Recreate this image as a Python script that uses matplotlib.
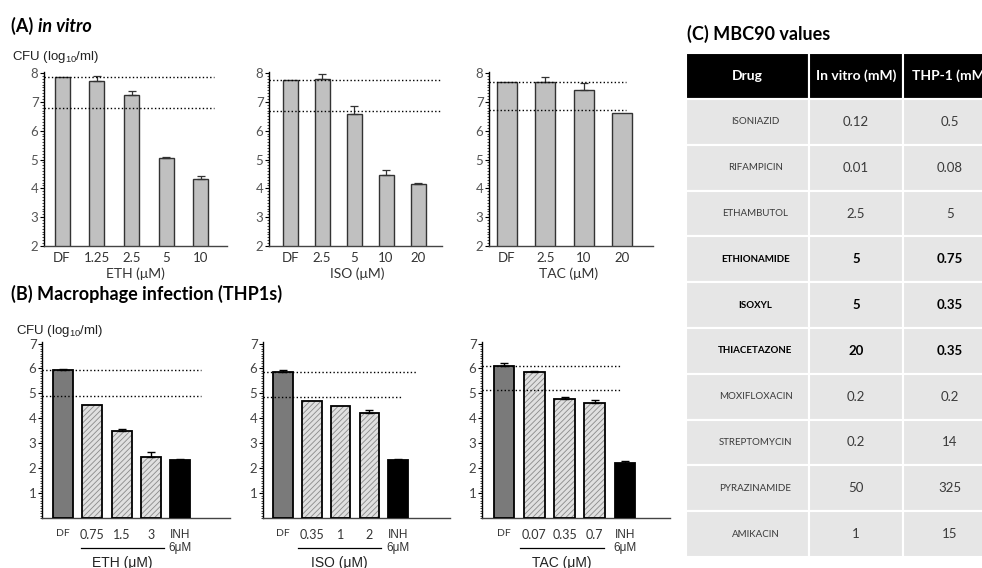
import numpy as np
import matplotlib
matplotlib.use('Agg')
import matplotlib.pyplot as plt
from matplotlib.patches import Rectangle
from matplotlib.ticker import MultipleLocator
import matplotlib.transforms as mtransforms

plt.rcParams['font.family'] = ['Lato', 'DejaVu Sans']
plt.rcParams['mathtext.default'] = 'regular'
plt.rcParams['hatch.linewidth'] = 0.6

# ---- data: (A) in vitro ----
a_eth_labels = ['DF', '1.25', '2.5', '5', '10']
a_eth_vals = [7.85, 7.74, 7.25, 5.04, 4.33]
a_eth_err = [0, 0.15, 0.14, 0.05, 0.10]
a_eth_lines = [7.86, 6.80]

a_iso_labels = ['DF', '2.5', '5', '10', '20']
a_iso_vals = [7.75, 7.81, 6.58, 4.45, 4.14]
a_iso_err = [0, 0.17, 0.28, 0.17, 0.05]
a_iso_lines = [7.75, 6.67]

a_tac_labels = ['DF', '2.5', '10', '20']
a_tac_vals = [7.69, 7.69, 7.42, 6.60]
a_tac_err = [0, 0.19, 0.25, 0]
a_tac_lines = [7.69, 6.73]

# ---- data: (B) macrophage infection ----
b_eth_labels = ['DF', '0.75', '1.5', '3', 'INH\n6μM']
b_eth_vals = [5.95, 4.52, 3.48, 2.46, 2.32]
b_eth_err = [0.04, 0, 0.10, 0.17, 0.04]
b_eth_lines = [5.95, 4.89]

b_iso_labels = ['DF', '0.35', '1', '2', 'INH\n6μM']
b_iso_vals = [5.87, 4.68, 4.49, 4.21, 2.31]
b_iso_err = [0.06, 0, 0, 0.13, 0.05]
b_iso_lines = [5.87, 4.84]

b_tac_labels = ['DF', '0.07', '0.35', '0.7', 'INH\n6μM']
b_tac_vals = [6.11, 5.84, 4.79, 4.63, 2.19]
b_tac_err = [0.09, 0.05, 0.05, 0.09, 0.09]
b_tac_lines = [6.09, 5.12]

# ---- data: (C) table ----
tbl_header = ['Drug', 'In vitro (mM)', 'THP-1 (mM)']
drugs = ['ISONIAZID', 'RIFAMPICIN', 'ETHAMBUTOL', 'ETHIONAMIDE', 'ISOXYL',
         'THIACETAZONE', 'MOXIFLOXACIN', 'STREPTOMYCIN', 'PYRAZINAMIDE', 'AMIKACIN']
mbc_invitro = ['0.12', '0.01', '2.5', '5', '5', '20', '0.2', '0.2', '50', '1']
mbc_thp1 = ['0.5', '0.08', '5', '0.75', '0.35', '0.35', '0.2', '14', '325', '15']
bold_drugs = ['ETHIONAMIDE', 'ISOXYL', 'THIACETAZONE']

W, H = 982, 568
fig = plt.figure(figsize=(W / 100, H / 100), dpi=100)
ARIAL = ['Liberation Sans', 'DejaVu Sans']


def box(l, t, r, b):
    return [l / W, 1 - b / H, (r - l) / W, (b - t) / H]


def style_axis(ax, ymin, ymax, tick_color):
    ax.set_ylim(ymin, ymax)
    for s in ['top', 'right']:
        ax.spines[s].set_visible(False)
    ax.spines['left'].set_linewidth(1.0)
    ax.spines['bottom'].set_linewidth(1.0)
    ax.spines['bottom'].set_color('#444444')
    ax.yaxis.set_major_locator(MultipleLocator(1))
    ax.yaxis.set_minor_locator(MultipleLocator(0.1))
    ax.tick_params(axis='y', which='major', length=3, width=0.8, labelsize=9.5,
                   labelcolor=tick_color, pad=1)
    ax.tick_params(axis='y', which='minor', length=1.5, width=0.5)
    ax.tick_params(axis='x', length=0, labelsize=9.5, labelcolor='#333333')


def panel_a(rect, labels, vals, err, lines, xl, xr, width, line_end, xlabel):
    ax = fig.add_axes(box(*rect))
    x = np.arange(len(vals))
    ax.bar(x, vals, width=width, bottom=0, color='#c0c0c0', edgecolor='#333333', linewidth=1.0, zorder=2)
    e = np.array(err)
    m = e > 0
    ax.errorbar(x[m], np.array(vals)[m], yerr=[np.zeros(m.sum()), e[m]], fmt='none',
                ecolor='#333333', elinewidth=0.9, capsize=3, capthick=0.9, zorder=3)
    for yv in lines:
        ax.plot([xl, line_end], [yv, yv], ls=':', color='black', lw=1.0, zorder=4, clip_on=False)
    style_axis(ax, 2, 8.05, '#555555')
    ax.set_xlim(xl, xr)
    ax.set_xticks(x)
    ax.set_xticklabels(labels)
    ax.tick_params(axis='x', pad=4)
    ax.text(0.5 * (x[0] + x[-1]) + 0.1, -0.16, xlabel,
            transform=mtransforms.blended_transform_factory(ax.transData, ax.transAxes),
            ha='center', va='center', fontsize=10, color='#333333')
    return ax


def panel_b(rect, labels, vals, err, lines, xl, xr, line_ends, xlabel, under):
    ax = fig.add_axes(box(*rect))
    x = np.arange(len(vals))
    colors = ['#7a7a7a'] + ['#e0e0e0'] * (len(vals) - 2) + ['black']
    hatches = [''] + ['//////'] * (len(vals) - 2) + ['']
    ax.bar(x, vals, width=0.68, color=colors, edgecolor='#8a8a8a', linewidth=0, hatch=hatches, zorder=2)
    ax.bar(x, vals, width=0.68, color='none', edgecolor='black', linewidth=1.3, zorder=3)
    e = np.array(err)
    m = e > 0
    ax.errorbar(x[m], np.array(vals)[m], yerr=[np.zeros(m.sum()), e[m]], fmt='none',
                ecolor='black', elinewidth=1.0, capsize=3, capthick=1.0, zorder=4)
    for yv, xe in zip(lines, line_ends):
        ax.plot([xl, xe], [yv, yv], ls=':', color='black', lw=1.0, zorder=5, clip_on=False)
    style_axis(ax, 0, 7.05, '#444444')
    ax.set_yticks(range(1, 8))
    ax.set_xlim(xl, xr)
    ax.set_xticks(x)
    ax.set_xticklabels(labels)
    ax.tick_params(axis='x', pad=8, labelsize=9)
    for i, t in enumerate(ax.get_xticklabels()):
        if i == 0:
            t.set_fontsize(7.5)
        elif i == len(vals) - 1:
            t.set_family(ARIAL)
            t.set_fontsize(8.5)
            t.set_linespacing(1.1)
    tr = mtransforms.blended_transform_factory(ax.transData, ax.transAxes)
    ax.plot(under, [-0.171, -0.171], color='black', lw=0.9, transform=tr, clip_on=False)
    ax.text(0.5 * (under[0] + under[1]), -0.255, xlabel, transform=tr, ha='center', va='center',
            fontsize=10, family=ARIAL, color='#222222')
    return ax


# (A) panels
panel_a((44, 71.6, 227, 246), a_eth_labels, a_eth_vals, a_eth_err, a_eth_lines,
        -0.52, 4.75, 0.43, 4.37, 'ETH (μM)')
panel_a((269, 71.6, 442, 246), a_iso_labels, a_iso_vals, a_iso_err, a_iso_lines,
        -0.66, 4.75, 0.47, 4.72, 'ISO (μM)')
panel_a((489, 71.6, 653, 246), a_tac_labels, a_tac_vals, a_tac_err, a_tac_lines,
        -0.47, 3.81, 0.52, 3.1, 'TAC (μM)')

# (B) panels
panel_b((42, 342.3, 230, 518), b_eth_labels, b_eth_vals, b_eth_err, b_eth_lines,
        -0.72, 5.7, [4.72, 4.72], 'ETH (μM)', [0.6, 3.45])
panel_b((263, 342.3, 450, 518), b_iso_labels, b_iso_vals, b_iso_err, b_iso_lines,
        -0.7, 5.8, [4.63, 4.14], 'ISO (μM)', [0.52, 3.4])
panel_b((482, 342.3, 670, 518), b_tac_labels, b_tac_vals, b_tac_err, b_tac_lines,
        -0.73, 5.49, [3.87, 3.87], 'TAC (μM)', [0.53, 3.3])

# titles and y labels
t1 = fig.text(11 / W, 1 - 26 / H, '(A) ', fontsize=13, fontweight='bold', va='center')
fig.add_artist(plt.Annotation('in vitro', xy=(1, 0), xycoords=t1, va='bottom', ha='left',
                              fontsize=13, fontweight='bold', style='italic'))
fig.text(11 / W, 1 - 294 / H, '(B) Macrophage infection (THP1s)', fontsize=13, fontweight='bold', va='center')
fig.text(687 / W, 1 - 34 / H, '(C) MBC90 values', fontsize=13, fontweight='bold', va='center')

cfu = 'CFU (log$_{10}$/ml)'
fig.text(12 / W, 1 - 57 / H, cfu, fontsize=9.5, va='center', family=ARIAL, color='#222222')
fig.text(16 / W, 1 - 331 / H, cfu, fontsize=9.5, va='center', family=ARIAL, color='#222222')

# (C) table
tab = fig.add_axes(box(686, 53, 997, 557))
tab.set_xlim(0, 311)
tab.set_ylim(504, 0)
tab.axis('off')
col_edges = [0, 123, 217, 311]
row_h = 45.8
head_h = 46
for j in range(3):
    x0, x1 = col_edges[j], col_edges[j + 1]
    tab.add_patch(Rectangle((x0, 0), x1 - x0, head_h, facecolor='black', edgecolor='white', lw=1.5))
    tab.text((x0 + x1) / 2, head_h / 2, tbl_header[j], ha='center', va='center', color='white',
             fontsize=10, fontweight='bold')
for i, d in enumerate(drugs):
    y0 = head_h + i * row_h
    bold = d in bold_drugs
    cells = [d, mbc_invitro[i], mbc_thp1[i]]
    for j in range(3):
        x0, x1 = col_edges[j], col_edges[j + 1]
        tab.add_patch(Rectangle((x0, y0), x1 - x0, row_h, facecolor='#e6e6e6', edgecolor='white', lw=1.5))
        tab.text((x0 + x1) / 2 + (8 if j == 0 else 0), y0 + row_h / 2, cells[j], ha='center', va='center',
                 fontsize=7 if j == 0 else 9.5, fontweight='bold' if bold else 'normal',
                 color='black' if bold else '#3a3a3a')

fig.savefig('out.png', dpi=100)
